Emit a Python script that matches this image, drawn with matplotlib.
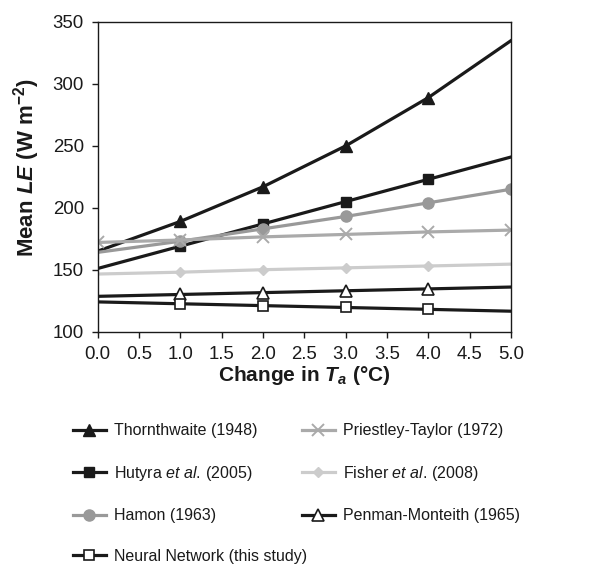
import matplotlib
matplotlib.use("Agg")
import matplotlib.pyplot as plt

plt.rcParams['font.family'] = ['Liberation Sans', 'DejaVu Sans']
plt.rcParams['mathtext.fontset'] = 'custom'
plt.rcParams['mathtext.rm'] = 'Liberation Sans'
plt.rcParams['mathtext.it'] = 'Liberation Sans:italic'
plt.rcParams['mathtext.bf'] = 'Liberation Sans:bold'
plt.rcParams['mathtext.bfit'] = 'Liberation Sans:bold:italic'

delta_t = [0, 1, 2, 3, 4, 5]
thornthwaite = [165, 189, 217, 250, 289, 335]
hutyra = [151, 169, 187, 205, 223, 241]
hamon = [164, 173, 183, 193, 204, 215]
priestley_taylor = [172, 174, 176.5, 178.5, 180.5, 182]
fisher = [146.5, 148, 150, 151.5, 153, 154.5]
penman_monteith = [128.5, 130, 131.5, 133, 134.5, 136]
neural_network = [124, 122.5, 121, 119.5, 118, 116.5]

x_ticks = [0.0, 0.5, 1.0, 1.5, 2.0, 2.5, 3.0, 3.5, 4.0, 4.5, 5.0]
y_ticks = [100, 150, 200, 250, 300, 350]

black = '#1a1a1a'
fig = plt.figure(figsize=(6.15, 5.64), dpi=100)
ax = fig.add_axes([0.159, 0.412, 0.672, 0.549])

lw = 2.3
inner = [1, 2, 3, 4]
h_thorn, = ax.plot(delta_t, thornthwaite, color=black, lw=lw, marker='^', ms=8.5,
                   markevery=inner, label='Thornthwaite (1948)')
h_hut, = ax.plot(delta_t, hutyra, color=black, lw=lw, marker='s', ms=7.5,
                 markevery=inner,
                 label='$\\mathrm{Hutyra}\\ \\mathit{et\\ al.}\\,\\mathrm{(2005)}$')
h_ham, = ax.plot(delta_t, hamon, color='#999999', lw=lw, marker='o', ms=8,
                 markevery=[1, 2, 3, 4, 5], label='Hamon (1963)')
h_pt, = ax.plot(delta_t, priestley_taylor, color='#aaaaaa', lw=lw, marker='x', ms=9,
                mew=1.4, label='Priestley-Taylor (1972)')
h_fis, = ax.plot(delta_t, fisher, color='#cccccc', lw=lw, marker='D', ms=5.5,
                 markevery=inner,
                 label='$\\mathrm{Fisher}\\ \\mathit{et\\ al.}\\,\\mathrm{(2008)}$')
h_pm, = ax.plot(delta_t, penman_monteith, color=black, lw=lw, marker='^', ms=8,
                mfc='white', mec=black, mew=1.2, markevery=inner,
                label='Penman-Monteith (1965)')
h_nn, = ax.plot(delta_t, neural_network, color=black, lw=lw, marker='s', ms=7,
                mfc='white', mec=black, mew=1.2, markevery=inner,
                label='Neural Network (this study)')

ax.set_xlim(0, 5)
ax.set_ylim(100, 350)
ax.set_xticks(x_ticks)
ax.set_xticklabels([f'{v:.1f}' for v in x_ticks])
ax.set_yticks(y_ticks)
ax.tick_params(direction='out', length=4, width=1, labelsize=13.4, colors=black, pad=6)
for sp in ax.spines.values():
    sp.set_linewidth(1)
    sp.set_color(black)

ax.set_xlabel('Change in $\\mathbfit{T}_{\\mathbfit{a}}$ (°C)', fontsize=15,
              fontweight='bold', color=black, labelpad=1)
ax.set_ylabel('Mean $\\mathbfit{LE}$ (W m$^{\\mathbf{-2}}$)', fontsize=16,
              fontweight='bold', color=black, labelpad=7.5, y=0.53)

legend_kw = dict(loc='upper left', frameon=False, handlelength=2.06,
                 handletextpad=0.5, labelspacing=1.6, borderpad=0,
                 borderaxespad=0, labelcolor=black, fontsize=11.5)
col1 = [h_thorn, h_hut, h_ham, h_nn]
col2 = [h_pt, h_fis, h_pm]
fig.legend(handles=col1, labels=[h.get_label() for h in col1],
           bbox_to_anchor=(0.1187, 0.2495), **legend_kw)
fig.legend(handles=col2, labels=[h.get_label() for h in col2],
           bbox_to_anchor=(0.491, 0.2495), **legend_kw)

fig.savefig('out.png', dpi=100)
